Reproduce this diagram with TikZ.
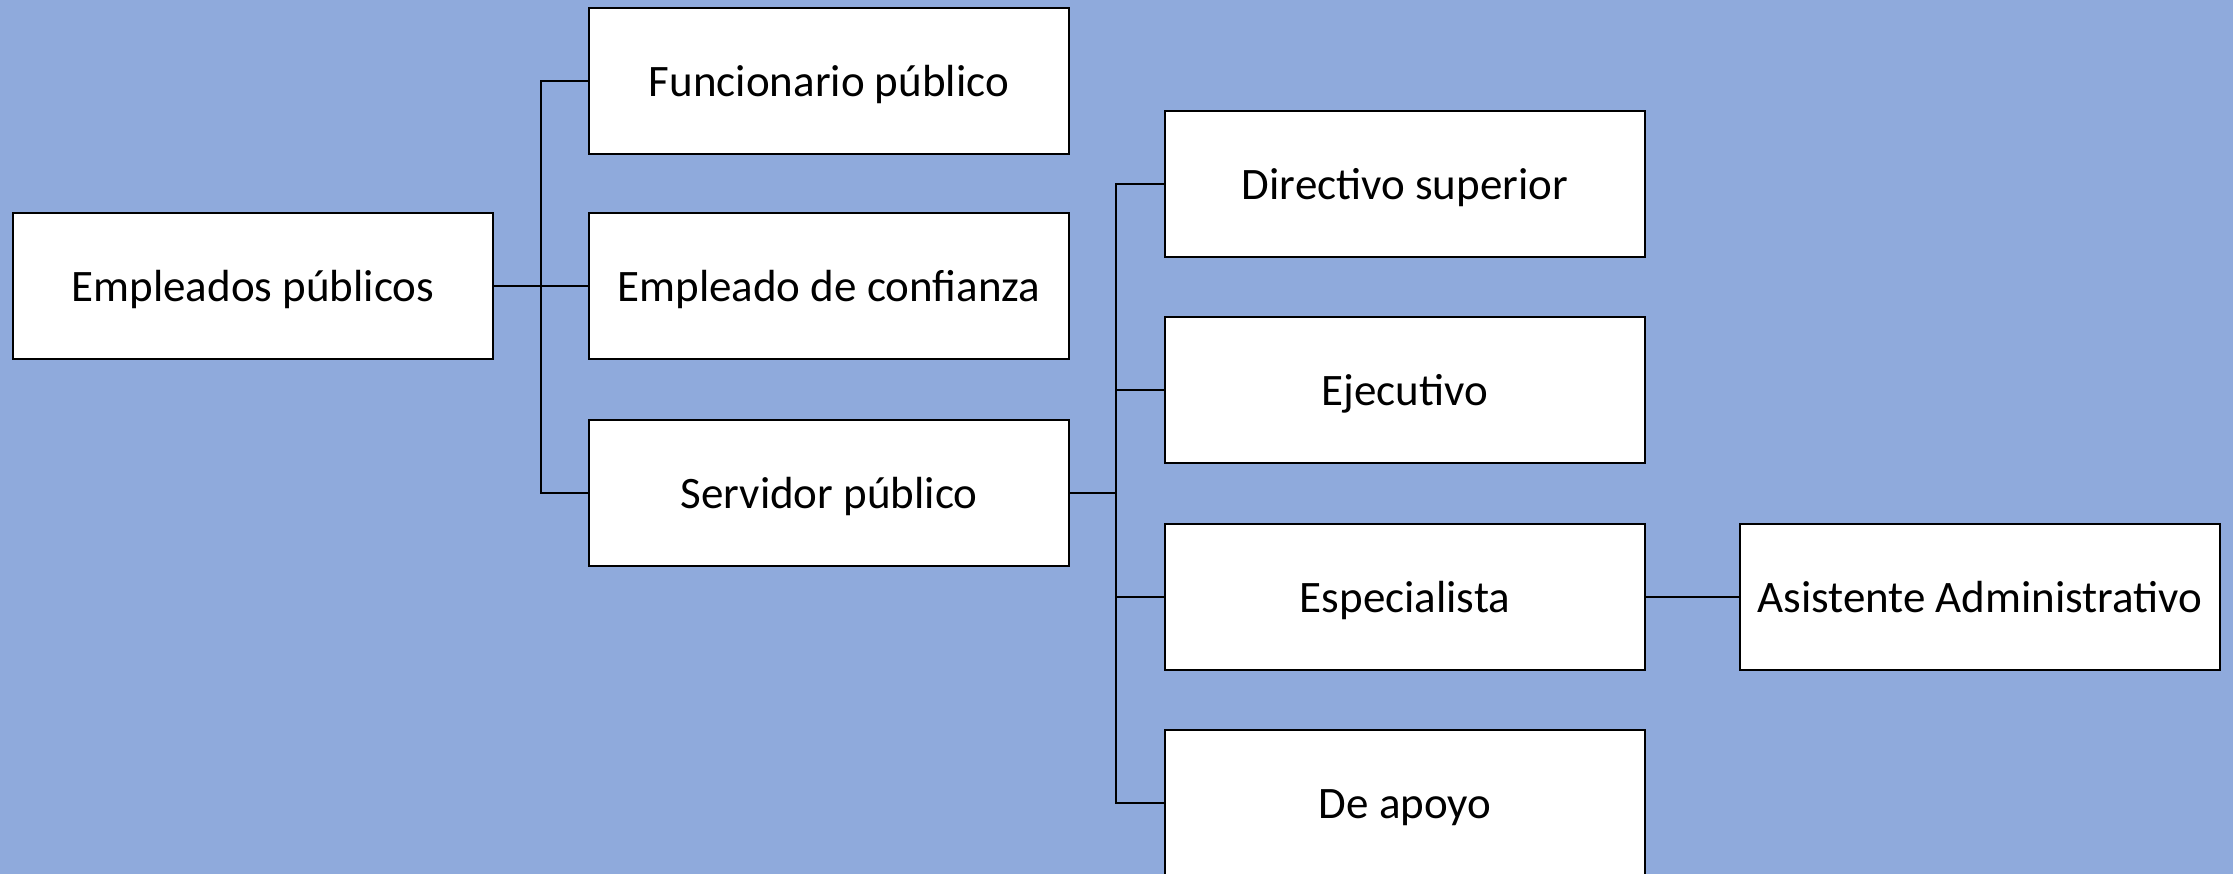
\documentclass[tikz,border=0pt]{standalone}
\usepackage{fontspec}
\setmainfont{Carlito}
\definecolor{bg}{HTML}{8FAADC}
\begin{document}
\begin{tikzpicture}[x=1pt,y=-1pt,
  box/.style={draw=black,fill=white,line width=2.6pt,minimum width=480pt,minimum height=146pt,inner sep=0pt,text height=38pt,text depth=7pt,font=\fontsize{45}{54}\selectfont,anchor=center},
  conn/.style={draw=black,line width=2.2pt}]
\useasboundingbox (0,0) rectangle (2233,873);
\fill[bg] (-10,-10) rectangle (2243,883);
\node[box] (emp) at (253,286) {Empleados públicos};
\node[box] (fun) at (829,81) {Funcionario público};
\node[box] (conf) at (829,286) {Empleado de confianza};
\node[box] (serv) at (829,493) {Servidor público};
\node[box] (dir) at (1405,184) {Directivo superior};
\node[box] (eje) at (1405,390) {Ejecutivo};
\node[box] (esp) at (1405,597) {Especialista};
\node[box] (apo) at (1405,803) {De apoyo};
\node[box] (asi) at (1980,597) {Asistente Administrativo};
\coordinate (b1) at (541,286);
\coordinate (b2) at (1116,493);
\draw[conn] (emp.east) -- (b1);
\draw[conn] (b1) -- (conf.west);
\draw[conn] (fun.west) -| (b1) |- (serv.west);
\draw[conn] (serv.east) -- (b2);
\draw[conn] (dir.west) -| (b2) |- (apo.west);
\draw[conn] (b2 |- eje.west) -- (eje.west);
\draw[conn] (b2 |- esp.west) -- (esp.west);
\draw[conn] (esp.east) -- (asi.west);
\end{tikzpicture}
\end{document}
